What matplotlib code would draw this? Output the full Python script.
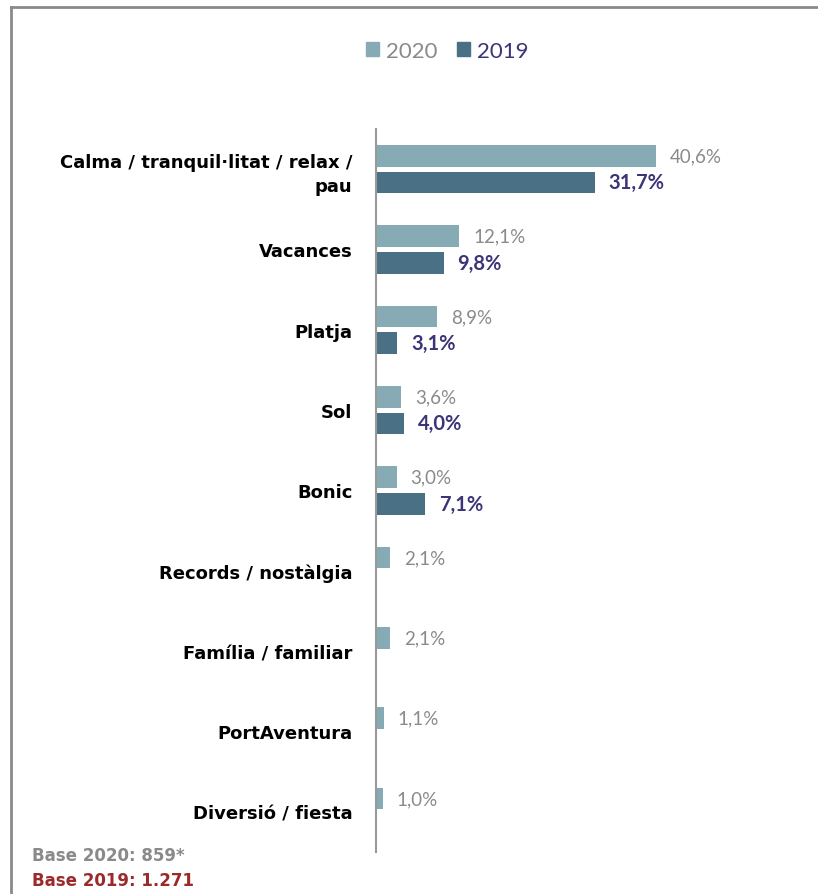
import matplotlib.pyplot as plt
from matplotlib.patches import Patch
from matplotlib.lines import Line2D

# Paraules associades al destí (percentatge de respostes)
categories = ["Calma / tranquil·litat / relax /\npau", "Vacances", "Platja", "Sol", "Bonic",
              "Records / nostàlgia", "Família / familiar", "PortAventura", "Diversió / fiesta"]
values_2020 = [40.6, 12.1, 8.9, 3.6, 3.0, 2.1, 2.1, 1.1, 1.0]
values_2019 = [31.7, 9.8, 3.1, 4.0, 7.1, None, None, None, None]

COL_2020 = "#86abb5"
COL_2019 = "#4a7086"
TXT_2020 = "#8a8a8a"
TXT_2019 = "#3b3478"


def fmt(v):
    return f"{v:.1f}%".replace(".", ",")


def main():
    fig = plt.figure(figsize=(8.18, 8.95), dpi=100)
    W, H = 818, 895
    ax = fig.add_axes([376 / W, 1 - 853 / H, 414 / W, (853 - 130) / H])

    ys = list(range(len(categories)))
    off, h = 0.165, 0.27
    for y, v in zip(ys, values_2020):
        ax.barh(y - off, v, height=h, color=COL_2020)
        ax.annotate(fmt(v), (v, y - off), xytext=(10, 0), textcoords="offset points",
                    va="center", ha="left", fontsize=13.5, color=TXT_2020, family="Lato")
    for y, v in zip(ys, values_2019):
        if v is None:
            continue
        ax.barh(y + off, v, height=h, color=COL_2019)
        ax.annotate(fmt(v), (v, y + off), xytext=(10, 0), textcoords="offset points",
                    va="center", ha="left", fontsize=14.5, color=TXT_2019,
                    fontweight="bold", family="Lato")

    ax.set_xlim(0, 60)
    ax.set_ylim(8.5, -0.5)
    ax.set_xticks([])
    ax.set_yticks(ys)
    ax.set_yticklabels(categories, fontsize=13, fontweight="bold", linespacing=1.45)
    ax.tick_params(axis="y", length=0, pad=17)
    for s in ["top", "right", "bottom"]:
        ax.spines[s].set_visible(False)
    ax.spines["left"].set_color("#999999")
    ax.spines["left"].set_linewidth(1.5)

    # legend
    handles = [Patch(color=COL_2020), Patch(color=COL_2019)]
    fig.legend(handles, ["2020", "2019"], loc="center", bbox_to_anchor=(447 / W, 1 - 52 / H),
               ncol=2, frameon=False, handlelength=0.6, handleheight=0.6,
               handletextpad=0.3, columnspacing=0.9, labelcolor=[TXT_2020, TXT_2019],
               prop={"family": "Lato", "size": 16})

    # base notes
    fig.text(32 / W, 1 - 856 / H, "Base 2020: 859*", fontsize=12, fontweight="bold",
             color=TXT_2020, va="center")
    fig.text(32 / W, 1 - 881 / H, "Base 2019: 1.271", fontsize=12, fontweight="bold",
             color="#9b2b2b", va="center")

    # frame lines
    fig.add_artist(Line2D([10.5 / W, 1], [1 - 8 / H, 1 - 8 / H], color="#8a8a8a", lw=2))
    fig.add_artist(Line2D([11 / W, 11 / W], [0, 1 - 8 / H], color="#8a8a8a", lw=2))

    fig.savefig("out.png", dpi=100)


if __name__ == "__main__":
    main()
